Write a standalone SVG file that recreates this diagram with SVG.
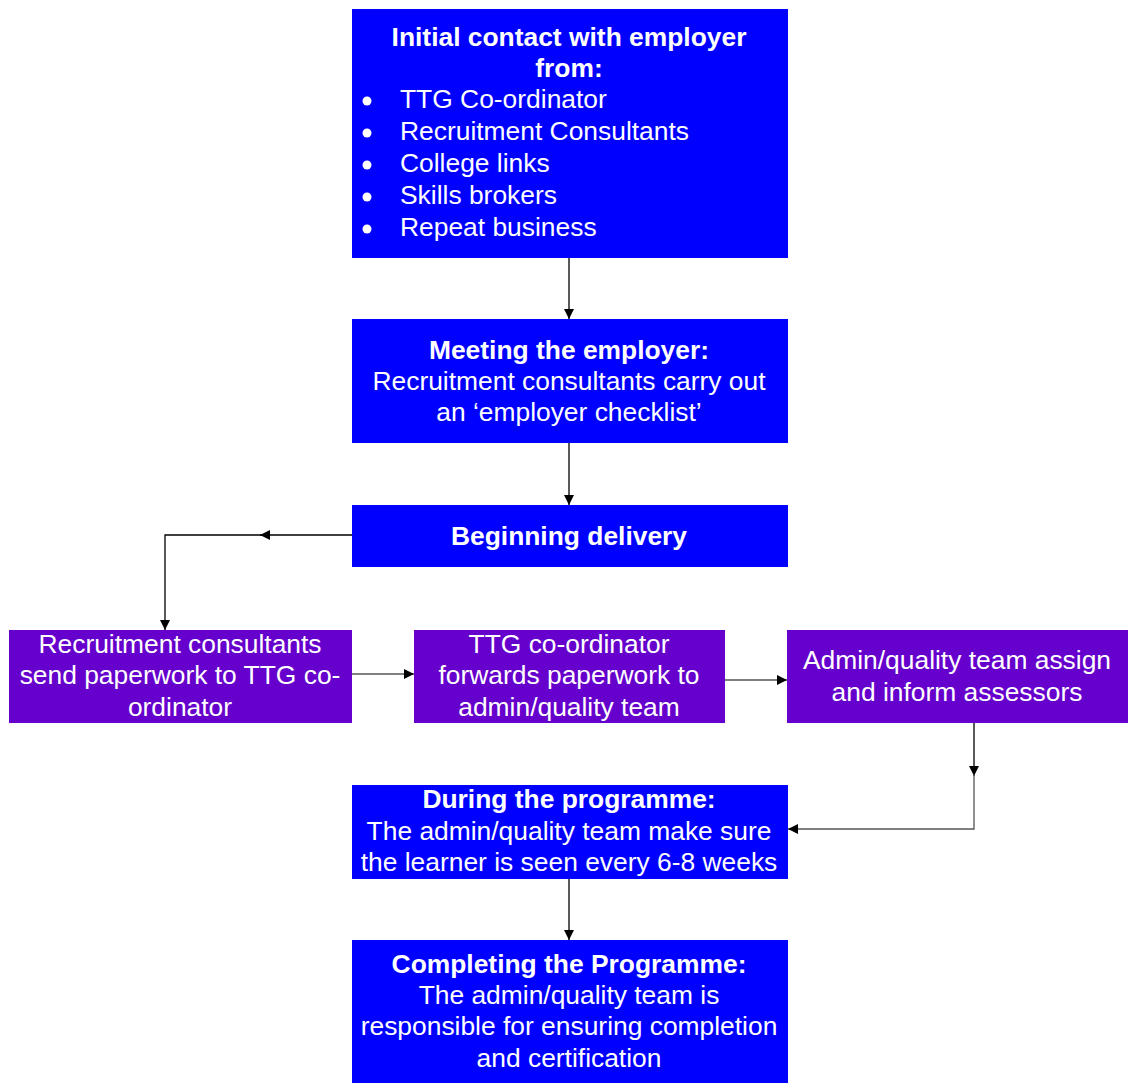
<svg xmlns="http://www.w3.org/2000/svg" width="1128" height="1090" viewBox="0 0 1128 1090">
<defs>
<style>
.b{fill:#0000FF}
.p{fill:#6600CC}
text{font-family:"Liberation Sans",Arial,sans-serif;font-size:26.4px;fill:#fff;text-anchor:middle}
.t{font-weight:bold}
.l{text-anchor:start}
.c{fill:none;stroke:#000;stroke-width:1.3}
.g{fill:none;stroke:#555;stroke-width:1.3}
</style>
<marker id="a" viewBox="0 0 10 10" refX="10" refY="5" markerWidth="10" markerHeight="10" markerUnits="userSpaceOnUse" orient="auto"><path d="M0,0L10,5L0,10z" fill="#000"/></marker>
</defs>
<g id="connectors">
<line class="c" x1="569" y1="258" x2="569" y2="319" marker-end="url(#a)"/>
<line class="c" x1="569" y1="443" x2="569" y2="505" marker-end="url(#a)"/>
<line class="c" x1="352" y1="535" x2="260" y2="535" marker-end="url(#a)"/>
<polyline class="c" points="262,535 165,535 165,630" marker-end="url(#a)"/>
<line class="g" x1="352" y1="674" x2="414" y2="674" marker-end="url(#a)"/>
<line class="g" x1="725" y1="680" x2="787" y2="680" marker-end="url(#a)"/>
<line class="c" x1="974" y1="723" x2="974" y2="776" marker-end="url(#a)"/>
<polyline class="g" points="974,774 974,829 788,829" marker-end="url(#a)"/>
<line class="c" x1="569" y1="879" x2="569" y2="940" marker-end="url(#a)"/>
</g>
<g id="n1">
<rect class="b" x="352" y="9" width="436" height="249"/>
<text class="t" x="569" y="46">Initial contact with employer</text>
<text class="t" x="569" y="77">from:</text>
<g fill="#fff"><circle cx="367" cy="101" r="4.5"/><circle cx="367" cy="133" r="4.5"/><circle cx="367" cy="165" r="4.5"/><circle cx="367" cy="197" r="4.5"/><circle cx="367" cy="229" r="4.5"/></g>
<text class="l" x="400" y="108">TTG Co-ordinator</text>
<text class="l" x="400" y="140">Recruitment Consultants</text>
<text class="l" x="400" y="172">College links</text>
<text class="l" x="400" y="204">Skills brokers</text>
<text class="l" x="400" y="236">Repeat business</text>
</g>
<g id="n2">
<rect class="b" x="352" y="319" width="436" height="124"/>
<text class="t" x="569" y="359">Meeting the employer:</text>
<text x="569" y="390">Recruitment consultants carry out</text>
<text x="569" y="421">an ‘employer checklist’</text>
</g>
<g id="n3">
<rect class="b" x="352" y="505" width="436" height="62"/>
<text class="t" x="569" y="545">Beginning delivery</text>
</g>
<g id="n4">
<rect class="p" x="9" y="630" width="343" height="93"/>
<text x="180" y="653">Recruitment consultants</text>
<text x="180" y="684">send paperwork to TTG co-</text>
<text x="180" y="716">ordinator</text>
</g>
<g id="n5">
<rect class="p" x="414" y="630" width="311" height="93"/>
<text x="569" y="653">TTG co-ordinator</text>
<text x="569" y="684">forwards paperwork to</text>
<text x="569" y="716">admin/quality team</text>
</g>
<g id="n6">
<rect class="p" x="787" y="630" width="341" height="93"/>
<text x="957" y="669">Admin/quality team assign</text>
<text x="957" y="701">and inform assessors</text>
</g>
<g id="n7">
<rect class="b" x="352" y="785" width="436" height="94"/>
<text class="t" x="569" y="808">During the programme:</text>
<text x="569" y="840">The admin/quality team make sure</text>
<text x="569" y="871">the learner is seen every 6-8 weeks</text>
</g>
<g id="n8">
<rect class="b" x="352" y="940" width="436" height="143"/>
<text class="t" x="569" y="973">Completing the Programme:</text>
<text x="569" y="1004">The admin/quality team is</text>
<text x="569" y="1035">responsible for ensuring completion</text>
<text x="569" y="1067">and certification</text>
</g>
</svg>
